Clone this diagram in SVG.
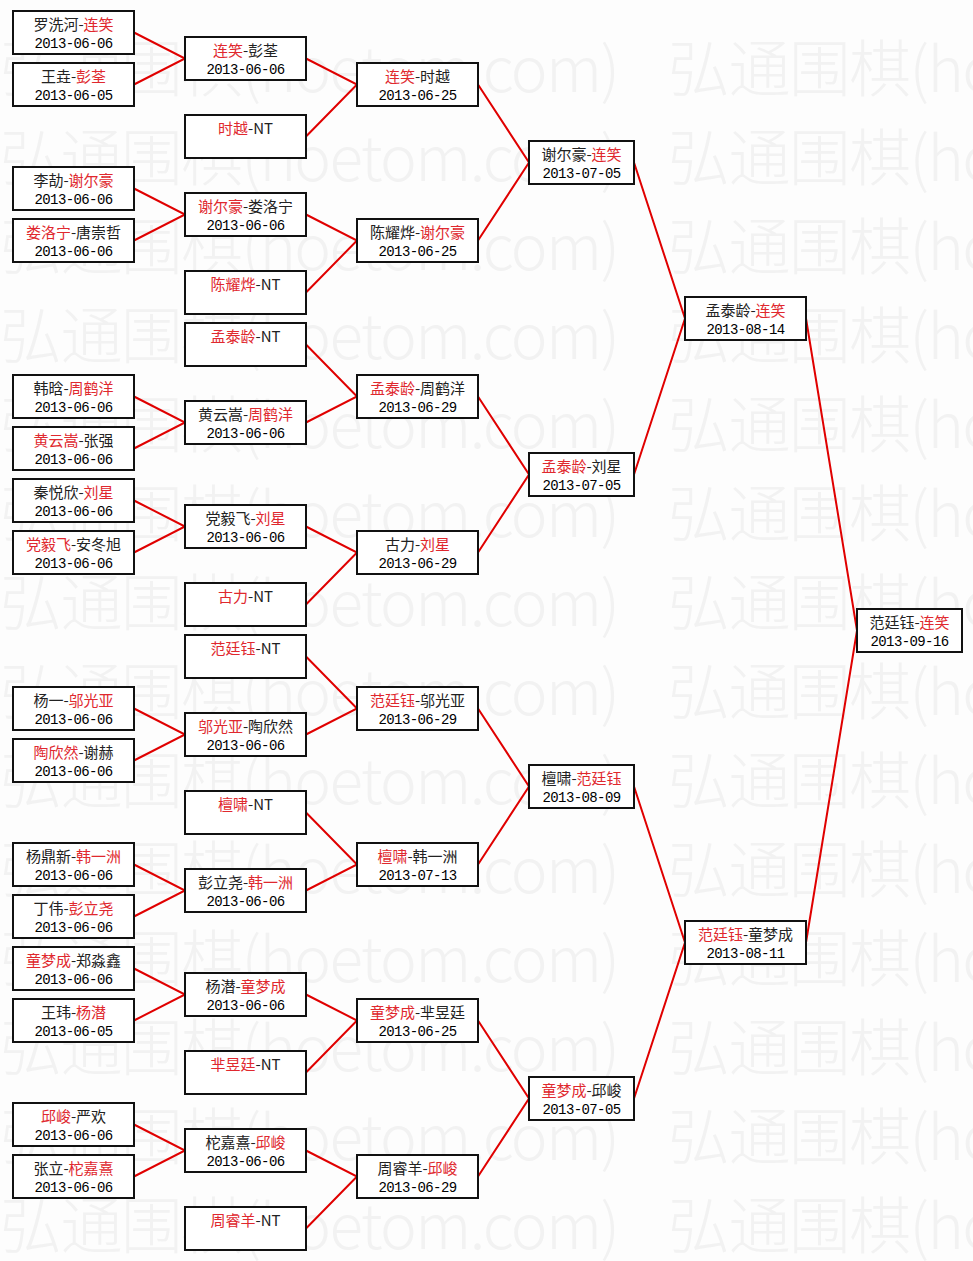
<svg xmlns="http://www.w3.org/2000/svg" width="973" height="1261" viewBox="0 0 973 1261">
<style>
.bg{fill:#fdfdfd}
.wm{font-family:"Noto Sans CJK SC","Noto Sans",sans-serif;font-size:62px;font-weight:300;fill:#f2f2f2}
rect.b{fill:#fff;stroke:#111;stroke-width:2}
.n{font-family:"Noto Sans CJK SC","Noto Sans",sans-serif;font-size:15px;fill:#222;text-anchor:middle}
.r{fill:#e0282e}
.d{font-family:"Liberation Mono",monospace;font-size:14px;letter-spacing:-0.6px;fill:#000;text-anchor:middle}
.c polyline{fill:none;stroke:#e00000;stroke-width:2}
</style>
<rect class="bg" x="0" y="0" width="973" height="1261"/>
<g id="watermark" class="wm">
<text x="0" y="92" textLength="620" lengthAdjust="spacing">弘通围棋(hoetom.com)</text><text x="668" y="92" textLength="620" lengthAdjust="spacing">弘通围棋(hoetom.com)</text>
<text x="0" y="181" textLength="620" lengthAdjust="spacing">弘通围棋(hoetom.com)</text><text x="668" y="181" textLength="620" lengthAdjust="spacing">弘通围棋(hoetom.com)</text>
<text x="0" y="270" textLength="620" lengthAdjust="spacing">弘通围棋(hoetom.com)</text><text x="668" y="270" textLength="620" lengthAdjust="spacing">弘通围棋(hoetom.com)</text>
<text x="0" y="359" textLength="620" lengthAdjust="spacing">弘通围棋(hoetom.com)</text><text x="668" y="359" textLength="620" lengthAdjust="spacing">弘通围棋(hoetom.com)</text>
<text x="0" y="448" textLength="620" lengthAdjust="spacing">弘通围棋(hoetom.com)</text><text x="668" y="448" textLength="620" lengthAdjust="spacing">弘通围棋(hoetom.com)</text>
<text x="0" y="537" textLength="620" lengthAdjust="spacing">弘通围棋(hoetom.com)</text><text x="668" y="537" textLength="620" lengthAdjust="spacing">弘通围棋(hoetom.com)</text>
<text x="0" y="626" textLength="620" lengthAdjust="spacing">弘通围棋(hoetom.com)</text><text x="668" y="626" textLength="620" lengthAdjust="spacing">弘通围棋(hoetom.com)</text>
<text x="0" y="715" textLength="620" lengthAdjust="spacing">弘通围棋(hoetom.com)</text><text x="668" y="715" textLength="620" lengthAdjust="spacing">弘通围棋(hoetom.com)</text>
<text x="0" y="804" textLength="620" lengthAdjust="spacing">弘通围棋(hoetom.com)</text><text x="668" y="804" textLength="620" lengthAdjust="spacing">弘通围棋(hoetom.com)</text>
<text x="0" y="893" textLength="620" lengthAdjust="spacing">弘通围棋(hoetom.com)</text><text x="668" y="893" textLength="620" lengthAdjust="spacing">弘通围棋(hoetom.com)</text>
<text x="0" y="982" textLength="620" lengthAdjust="spacing">弘通围棋(hoetom.com)</text><text x="668" y="982" textLength="620" lengthAdjust="spacing">弘通围棋(hoetom.com)</text>
<text x="0" y="1071" textLength="620" lengthAdjust="spacing">弘通围棋(hoetom.com)</text><text x="668" y="1071" textLength="620" lengthAdjust="spacing">弘通围棋(hoetom.com)</text>
<text x="0" y="1160" textLength="620" lengthAdjust="spacing">弘通围棋(hoetom.com)</text><text x="668" y="1160" textLength="620" lengthAdjust="spacing">弘通围棋(hoetom.com)</text>
<text x="0" y="1249" textLength="620" lengthAdjust="spacing">弘通围棋(hoetom.com)</text><text x="668" y="1249" textLength="620" lengthAdjust="spacing">弘通围棋(hoetom.com)</text>
</g>
<g id="connectors" class="c">
<polyline points="134,32.5 185,58.5 134,84.5"/>
<polyline points="134,188.5 185,214.5 134,240.5"/>
<polyline points="134,396.5 185,422.5 134,448.5"/>
<polyline points="134,500.5 185,526.5 134,552.5"/>
<polyline points="134,708.5 185,734.5 134,760.5"/>
<polyline points="134,864.5 185,890.5 134,916.5"/>
<polyline points="134,968.5 185,994.5 134,1020.5"/>
<polyline points="134,1124.5 185,1150.5 134,1176.5"/>
<polyline points="306,58.5 357,84.5 306,136.5"/>
<polyline points="306,214.5 357,240.5 306,292.5"/>
<polyline points="306,344.5 357,396.5 306,422.5"/>
<polyline points="306,526.5 357,552.5 306,604.5"/>
<polyline points="306,656.5 357,708.5 306,734.5"/>
<polyline points="306,812.5 357,864.5 306,890.5"/>
<polyline points="306,994.5 357,1020.5 306,1072.5"/>
<polyline points="306,1150.5 357,1176.5 306,1228.5"/>
<polyline points="478,84.5 529,162.5 478,240.5"/>
<polyline points="478,396.5 529,474.5 478,552.5"/>
<polyline points="478,708.5 529,786.5 478,864.5"/>
<polyline points="478,1020.5 529,1098.5 478,1176.5"/>
<polyline points="634,162.5 685,318.5 634,474.5"/>
<polyline points="634,786.5 685,942.5 634,1098.5"/>
<polyline points="806,318.5 857,630.5 806,942.5"/>
</g>
<g id="r1-01"><rect class="b" x="13" y="11" width="121" height="43"/><text class="n" x="73.5" y="30">罗洗河-<tspan class="r">连笑</tspan></text><text class="d" x="73.5" y="48">2013-06-06</text></g>
<g id="r1-02"><rect class="b" x="13" y="63" width="121" height="43"/><text class="n" x="73.5" y="82">王垚-<tspan class="r">彭荃</tspan></text><text class="d" x="73.5" y="100">2013-06-05</text></g>
<g id="r1-03"><rect class="b" x="13" y="167" width="121" height="43"/><text class="n" x="73.5" y="186">李劼-<tspan class="r">谢尔豪</tspan></text><text class="d" x="73.5" y="204">2013-06-06</text></g>
<g id="r1-04"><rect class="b" x="13" y="219" width="121" height="43"/><text class="n" x="73.5" y="238"><tspan class="r">娄洛宁</tspan>-唐崇哲</text><text class="d" x="73.5" y="256">2013-06-06</text></g>
<g id="r1-05"><rect class="b" x="13" y="375" width="121" height="43"/><text class="n" x="73.5" y="394">韩晗-<tspan class="r">周鹤洋</tspan></text><text class="d" x="73.5" y="412">2013-06-06</text></g>
<g id="r1-06"><rect class="b" x="13" y="427" width="121" height="43"/><text class="n" x="73.5" y="446"><tspan class="r">黄云嵩</tspan>-张强</text><text class="d" x="73.5" y="464">2013-06-06</text></g>
<g id="r1-07"><rect class="b" x="13" y="479" width="121" height="43"/><text class="n" x="73.5" y="498">秦悦欣-<tspan class="r">刘星</tspan></text><text class="d" x="73.5" y="516">2013-06-06</text></g>
<g id="r1-08"><rect class="b" x="13" y="531" width="121" height="43"/><text class="n" x="73.5" y="550"><tspan class="r">党毅飞</tspan>-安冬旭</text><text class="d" x="73.5" y="568">2013-06-06</text></g>
<g id="r1-09"><rect class="b" x="13" y="687" width="121" height="43"/><text class="n" x="73.5" y="706">杨一-<tspan class="r">邬光亚</tspan></text><text class="d" x="73.5" y="724">2013-06-06</text></g>
<g id="r1-10"><rect class="b" x="13" y="739" width="121" height="43"/><text class="n" x="73.5" y="758"><tspan class="r">陶欣然</tspan>-谢赫</text><text class="d" x="73.5" y="776">2013-06-06</text></g>
<g id="r1-11"><rect class="b" x="13" y="843" width="121" height="43"/><text class="n" x="73.5" y="862">杨鼎新-<tspan class="r">韩一洲</tspan></text><text class="d" x="73.5" y="880">2013-06-06</text></g>
<g id="r1-12"><rect class="b" x="13" y="895" width="121" height="43"/><text class="n" x="73.5" y="914">丁伟-<tspan class="r">彭立尧</tspan></text><text class="d" x="73.5" y="932">2013-06-06</text></g>
<g id="r1-13"><rect class="b" x="13" y="947" width="121" height="43"/><text class="n" x="73.5" y="966"><tspan class="r">童梦成</tspan>-郑淼鑫</text><text class="d" x="73.5" y="984">2013-06-06</text></g>
<g id="r1-14"><rect class="b" x="13" y="999" width="121" height="43"/><text class="n" x="73.5" y="1018">王玮-<tspan class="r">杨潜</tspan></text><text class="d" x="73.5" y="1036">2013-06-05</text></g>
<g id="r1-15"><rect class="b" x="13" y="1103" width="121" height="43"/><text class="n" x="73.5" y="1122"><tspan class="r">邱峻</tspan>-严欢</text><text class="d" x="73.5" y="1140">2013-06-06</text></g>
<g id="r1-16"><rect class="b" x="13" y="1155" width="121" height="43"/><text class="n" x="73.5" y="1174">张立-<tspan class="r">柁嘉熹</tspan></text><text class="d" x="73.5" y="1192">2013-06-06</text></g>
<g id="r2-01"><rect class="b" x="185" y="37" width="121" height="43"/><text class="n" x="245.5" y="56"><tspan class="r">连笑</tspan>-彭荃</text><text class="d" x="245.5" y="74">2013-06-06</text></g>
<g id="r2-02"><rect class="b" x="185" y="115" width="121" height="43"/><text class="n" x="245.5" y="134"><tspan class="r">时越</tspan>-NT</text></g>
<g id="r2-03"><rect class="b" x="185" y="193" width="121" height="43"/><text class="n" x="245.5" y="212"><tspan class="r">谢尔豪</tspan>-娄洛宁</text><text class="d" x="245.5" y="230">2013-06-06</text></g>
<g id="r2-04"><rect class="b" x="185" y="271" width="121" height="43"/><text class="n" x="245.5" y="290"><tspan class="r">陈耀烨</tspan>-NT</text></g>
<g id="r2-05"><rect class="b" x="185" y="323" width="121" height="43"/><text class="n" x="245.5" y="342"><tspan class="r">孟泰龄</tspan>-NT</text></g>
<g id="r2-06"><rect class="b" x="185" y="401" width="121" height="43"/><text class="n" x="245.5" y="420">黄云嵩-<tspan class="r">周鹤洋</tspan></text><text class="d" x="245.5" y="438">2013-06-06</text></g>
<g id="r2-07"><rect class="b" x="185" y="505" width="121" height="43"/><text class="n" x="245.5" y="524">党毅飞-<tspan class="r">刘星</tspan></text><text class="d" x="245.5" y="542">2013-06-06</text></g>
<g id="r2-08"><rect class="b" x="185" y="583" width="121" height="43"/><text class="n" x="245.5" y="602"><tspan class="r">古力</tspan>-NT</text></g>
<g id="r2-09"><rect class="b" x="185" y="635" width="121" height="43"/><text class="n" x="245.5" y="654"><tspan class="r">范廷钰</tspan>-NT</text></g>
<g id="r2-10"><rect class="b" x="185" y="713" width="121" height="43"/><text class="n" x="245.5" y="732"><tspan class="r">邬光亚</tspan>-陶欣然</text><text class="d" x="245.5" y="750">2013-06-06</text></g>
<g id="r2-11"><rect class="b" x="185" y="791" width="121" height="43"/><text class="n" x="245.5" y="810"><tspan class="r">檀啸</tspan>-NT</text></g>
<g id="r2-12"><rect class="b" x="185" y="869" width="121" height="43"/><text class="n" x="245.5" y="888">彭立尧-<tspan class="r">韩一洲</tspan></text><text class="d" x="245.5" y="906">2013-06-06</text></g>
<g id="r2-13"><rect class="b" x="185" y="973" width="121" height="43"/><text class="n" x="245.5" y="992">杨潜-<tspan class="r">童梦成</tspan></text><text class="d" x="245.5" y="1010">2013-06-06</text></g>
<g id="r2-14"><rect class="b" x="185" y="1051" width="121" height="43"/><text class="n" x="245.5" y="1070"><tspan class="r">芈昱廷</tspan>-NT</text></g>
<g id="r2-15"><rect class="b" x="185" y="1129" width="121" height="43"/><text class="n" x="245.5" y="1148">柁嘉熹-<tspan class="r">邱峻</tspan></text><text class="d" x="245.5" y="1166">2013-06-06</text></g>
<g id="r2-16"><rect class="b" x="185" y="1207" width="121" height="43"/><text class="n" x="245.5" y="1226"><tspan class="r">周睿羊</tspan>-NT</text></g>
<g id="r3-01"><rect class="b" x="357" y="63" width="121" height="43"/><text class="n" x="417.5" y="82"><tspan class="r">连笑</tspan>-时越</text><text class="d" x="417.5" y="100">2013-06-25</text></g>
<g id="r3-02"><rect class="b" x="357" y="219" width="121" height="43"/><text class="n" x="417.5" y="238">陈耀烨-<tspan class="r">谢尔豪</tspan></text><text class="d" x="417.5" y="256">2013-06-25</text></g>
<g id="r3-03"><rect class="b" x="357" y="375" width="121" height="43"/><text class="n" x="417.5" y="394"><tspan class="r">孟泰龄</tspan>-周鹤洋</text><text class="d" x="417.5" y="412">2013-06-29</text></g>
<g id="r3-04"><rect class="b" x="357" y="531" width="121" height="43"/><text class="n" x="417.5" y="550">古力-<tspan class="r">刘星</tspan></text><text class="d" x="417.5" y="568">2013-06-29</text></g>
<g id="r3-05"><rect class="b" x="357" y="687" width="121" height="43"/><text class="n" x="417.5" y="706"><tspan class="r">范廷钰</tspan>-邬光亚</text><text class="d" x="417.5" y="724">2013-06-29</text></g>
<g id="r3-06"><rect class="b" x="357" y="843" width="121" height="43"/><text class="n" x="417.5" y="862"><tspan class="r">檀啸</tspan>-韩一洲</text><text class="d" x="417.5" y="880">2013-07-13</text></g>
<g id="r3-07"><rect class="b" x="357" y="999" width="121" height="43"/><text class="n" x="417.5" y="1018"><tspan class="r">童梦成</tspan>-芈昱廷</text><text class="d" x="417.5" y="1036">2013-06-25</text></g>
<g id="r3-08"><rect class="b" x="357" y="1155" width="121" height="43"/><text class="n" x="417.5" y="1174">周睿羊-<tspan class="r">邱峻</tspan></text><text class="d" x="417.5" y="1192">2013-06-29</text></g>
<g id="r4-01"><rect class="b" x="529" y="141" width="105" height="43"/><text class="n" x="581.5" y="160">谢尔豪-<tspan class="r">连笑</tspan></text><text class="d" x="581.5" y="178">2013-07-05</text></g>
<g id="r4-02"><rect class="b" x="529" y="453" width="105" height="43"/><text class="n" x="581.5" y="472"><tspan class="r">孟泰龄</tspan>-刘星</text><text class="d" x="581.5" y="490">2013-07-05</text></g>
<g id="r4-03"><rect class="b" x="529" y="765" width="105" height="43"/><text class="n" x="581.5" y="784">檀啸-<tspan class="r">范廷钰</tspan></text><text class="d" x="581.5" y="802">2013-08-09</text></g>
<g id="r4-04"><rect class="b" x="529" y="1077" width="105" height="43"/><text class="n" x="581.5" y="1096"><tspan class="r">童梦成</tspan>-邱峻</text><text class="d" x="581.5" y="1114">2013-07-05</text></g>
<g id="r5-01"><rect class="b" x="685" y="297" width="121" height="43"/><text class="n" x="745.5" y="316">孟泰龄-<tspan class="r">连笑</tspan></text><text class="d" x="745.5" y="334">2013-08-14</text></g>
<g id="r5-02"><rect class="b" x="685" y="921" width="121" height="43"/><text class="n" x="745.5" y="940"><tspan class="r">范廷钰</tspan>-童梦成</text><text class="d" x="745.5" y="958">2013-08-11</text></g>
<g id="r6-01"><rect class="b" x="857" y="609" width="105" height="43"/><text class="n" x="909.5" y="628">范廷钰-<tspan class="r">连笑</tspan></text><text class="d" x="909.5" y="646">2013-09-16</text></g>
</svg>
